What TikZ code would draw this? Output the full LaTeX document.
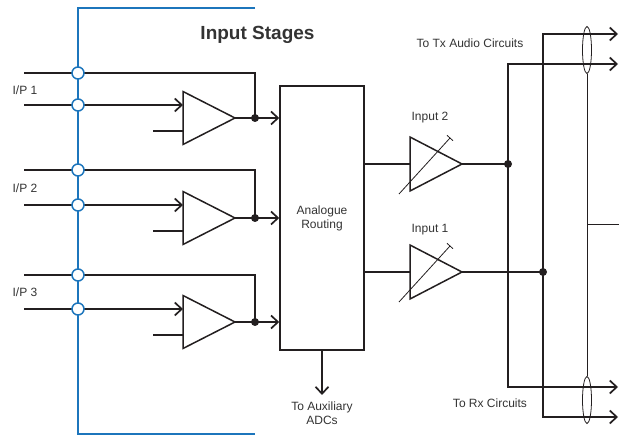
\documentclass[tikz,border=0pt]{standalone}
\usepackage{fontspec}
\setmainfont{Liberation Sans}
\usetikzlibrary{arrows.meta,shapes.geometric}
\definecolor{ink}{HTML}{231F20}
\definecolor{txt}{HTML}{333333}
\definecolor{bus}{RGB}{28,117,188}
\tikzset{
  wire/.style={draw=ink,line width=1.5pt},
  thinw/.style={draw=ink,line width=0.8pt},
  busline/.style={draw=bus,line width=2.6pt},
  tap/.style={circle,draw=bus,fill=white,line width=1.5pt,minimum size=12pt,inner sep=0pt},
  jdot/.style={circle,fill=ink,minimum size=8pt,inner sep=0pt},
  arr/.style={-{Straight Barb[length=7pt,width=13pt,line width=1.7pt]}},
  lbl/.style={text=txt,font=\fontsize{12}{14}\selectfont,align=center,inner sep=0pt},
  amp/.pic={
    \coordinate (-l) at (0,0);
    \coordinate (-tip) at (52,0);
    \coordinate (-a) at (0,-13);
    \coordinate (-b) at (0,13);
    \draw[wire] (0,-26.5) -- (52,0) -- (0,26.5) -- cycle;
  },
  vamp/.pic={
    \coordinate (-l) at (0,0);
    \coordinate (-tip) at (52,0);
    \draw[wire] (0,-27) -- (52,0) -- (0,27) -- cycle;
    \draw[thinw] (-11,30) -- (40,-26);
    \draw[thinw] (37,-28.7) -- (43,-23.3);
  }
}
\begin{document}
\begin{tikzpicture}[x=1pt,y=-1pt]
\useasboundingbox (0,0) rectangle (619,435);

% blue bus
\coordinate (bt) at (255,8);
\coordinate (b0t) at (78,8);
\coordinate (b0b) at (78,434);
\coordinate (bb) at (255,434);
\draw[busline] (bt) -- (b0t) -- (b0b) -- (bb);

% routing box
\node[draw=ink,line width=1.5pt,minimum width=84pt,minimum height=264pt,lbl] (routing) at (322,218) {Analogue\\Routing};

% input stages
\foreach \i/\T/\M in {1/73/118, 2/170/218, 3/275/322}{
  \coordinate (s\i t) at (24,\T);
  \coordinate (s\i a) at (24,\M-13);
  \coordinate (b\i) at (153,\M+13);
  \coordinate (j\i) at (255,\M);
  \pic (A\i) at (183,\M) {amp};
  \draw[wire] (s\i t) -| (j\i);
  \draw[wire,arr] (s\i a) -- (A\i-a);
  \draw[wire] (b\i) -- (A\i-b);
  \draw[wire] (A\i-tip) -- (j\i);
  \draw[wire,arr] (j\i) -- (j\i -| routing.west);
  \node[jdot] (dot\i) at (j\i) {};
  \node[tap] (tap\i t) at (78,\T) {};
  \node[tap] (tap\i a) at (78,\M-13) {};
}

\node[lbl] (ip1) at (25,90) {I/P 1};
\node[lbl] (ip2) at (25,188) {I/P 2};
\node[lbl] (ip3) at (25,292) {I/P 3};

\node[text=txt,font=\bfseries\fontsize{19}{22}\selectfont,inner sep=0pt] (title) at (257.5,35) {Input Stages};

% auxiliary output
\coordinate (aux) at (322,395);
\draw[wire,arr] (routing.south) -- (aux);
\node[lbl] (auxl) at (322,413) {To Auxiliary\\ADCs};

% right-hand amplifiers
\pic (V2) at (410,164) {vamp};
\pic (V1) at (410,272) {vamp};
\node[lbl] (in2) at (430,118) {Input 2};
\node[lbl] (in1) at (430,230) {Input 1};
\draw[wire] (V2-l -| routing.east) -- (V2-l);
\draw[wire] (V1-l -| routing.east) -- (V1-l);

\coordinate (d2) at (508,164);
\coordinate (d1) at (543,272);
\coordinate (tx1) at (618,34);
\coordinate (tx2) at (618,64);
\coordinate (rx1) at (618,387);
\coordinate (rx2) at (618,417);
\draw[wire] (V2-tip) -- (d2);
\draw[wire] (V1-tip) -- (d1);
\draw[wire,arr] (d2) |- (tx2);
\draw[wire,arr] (d2) |- (rx1);
\draw[wire,arr] (d1) |- (tx1);
\draw[wire,arr] (d1) |- (rx2);
\node[jdot] (dd2) at (d2) {};
\node[jdot] (dd1) at (d1) {};

% cable bundles
\node[ellipse,draw=ink,line width=0.8pt,minimum width=9pt,minimum height=47pt,inner sep=0pt] (ctx) at (587,50) {};
\node[ellipse,draw=ink,line width=0.8pt,minimum width=9pt,minimum height=47pt,inner sep=0pt] (crx) at (587,400) {};
\coordinate (scr) at (587,224);
\coordinate (scrR) at (619,224);
\draw[thinw] (ctx.south) -- (crx.north);
\draw[thinw] (scr) -- (scrR);

\node[lbl] (txl) at (470,43) {To Tx Audio Circuits};
\node[lbl] (rxl) at (490,403) {To Rx Circuits};
\end{tikzpicture}
\end{document}
